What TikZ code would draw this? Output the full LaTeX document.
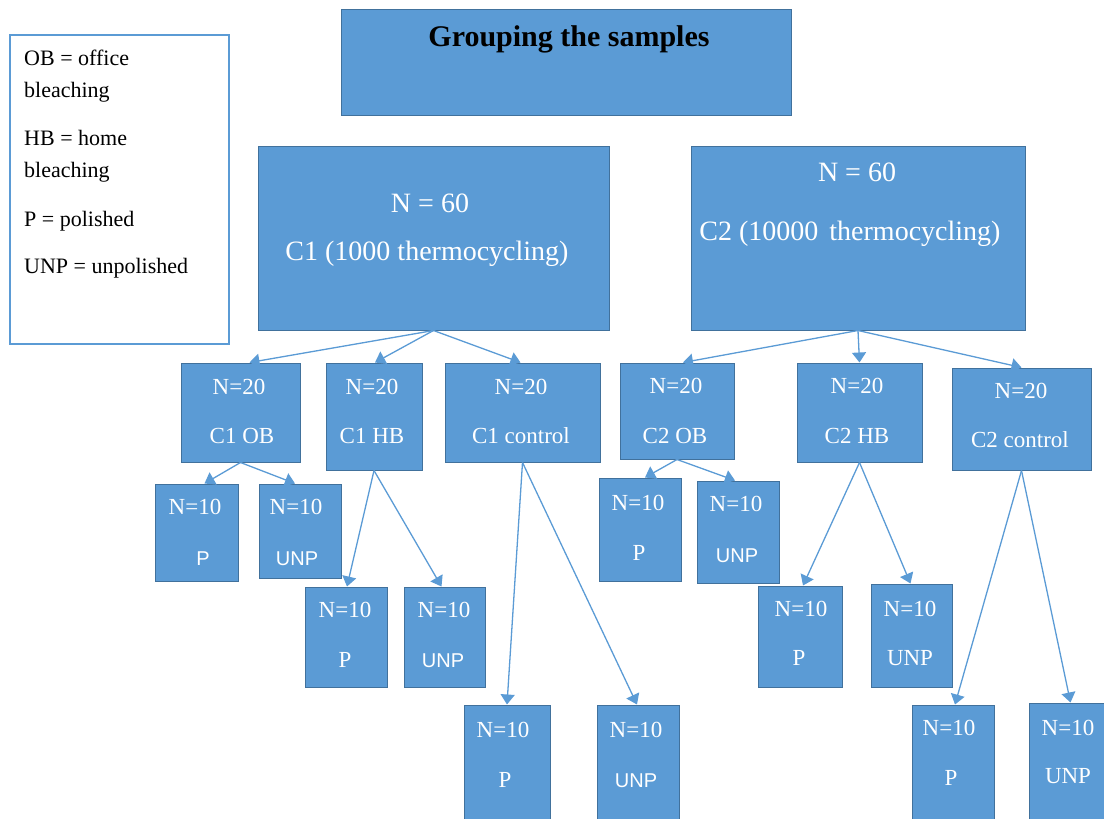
\documentclass[tikz,border=0pt]{standalone}
\usepackage{fontspec}
\setmainfont{Liberation Serif}
\newfontfamily\arialf{Liberation Sans}
\usetikzlibrary{arrows.meta,calc}
\definecolor{boxfill}{HTML}{5B9BD5}
\definecolor{boxline}{HTML}{41719C}
\definecolor{connc}{HTML}{5B9BD5}
\tikzset{
  bluebox/.style={draw=boxline, fill=boxfill, line width=1pt, inner sep=0pt, rectangle},
  legbox/.style={draw=connc, fill=white, line width=1.2pt, inner sep=0pt, rectangle},
  conn/.style={draw=connc, line width=1.3pt, -{Triangle[width=14pt,length=10pt]}},
  wt/.style={text=white, anchor=base, inner sep=0pt, font=\fontsize{23}{27}\selectfont},
  wts/.style={text=white, anchor=base, inner sep=0pt, font=\arialf\fontsize{20}{24}\selectfont},
  bigt/.style={text=white, anchor=base, inner sep=0pt, font=\fontsize{28}{32}\selectfont},
  titlet/.style={anchor=base, inner sep=0pt, font=\bfseries\fontsize{30}{34}\selectfont},
  legt/.style={anchor=base west, inner sep=0pt, font=\fontsize{22}{26}\selectfont},
}
\newcommand\mkbox[6][bluebox]{\node[#1, minimum width={(#5)-(#3)}, minimum height={(#6)-(#4)}] (#2) at ({((#3)+(#5))/2},{((#4)+(#6))/2}) {};}
\begin{document}
\begin{tikzpicture}[x=1pt,y=-1pt]
\useasboundingbox (0,0) rectangle (1104,819);
\clip (0,0) rectangle (1104,819);
% legend
\mkbox[legbox]{legend}{10}{35}{229}{344}
\node[legt] (l1) at (24,65) {OB = office};
\node[legt] (l2) at (24,97) {bleaching};
\node[legt] (l3) at (24,145) {HB = home};
\node[legt] (l4) at (24,177) {bleaching};
\node[legt] (l5) at (24,226) {P = polished};
\node[legt] (l6) at (24,273) {UNP = unpolished};
% title
\mkbox{title}{341}{9}{791}{115}
\node[titlet] (titlet) at (569,46) {Grouping the samples};
% level 1
\mkbox{c1}{258}{146}{609}{330}
\node[bigt] (c1a) at (430,212) {N = 60};
\node[bigt] (c1b) at (427,260) {C1 (1000 thermocycling)};
\mkbox{c2}{691}{146}{1025}{330}
\node[bigt] (c2a) at (857,181) {N = 60};
\node[bigt] (c2b) at (850,240) {C2 (10000\hspace{4pt} thermocycling)};
% level 2
\mkbox{c1ob}{181}{363}{300}{462}
\node[wt] (c1oba) at (239,394) {N=20};
\node[wt] (c1obb) at (242,443) {C1 OB};
\mkbox{c1hb}{326}{363}{422}{470}
\node[wt] (c1hba) at (372,394) {N=20};
\node[wt] (c1hbb) at (372,443) {C1 HB};
\mkbox{c1ct}{445}{363}{600}{462}
\node[wt] (c1cta) at (521,394) {N=20};
\node[wt] (c1ctb) at (521,443) {C1 control};
\mkbox{c2ob}{620}{363}{734}{459}
\node[wt] (c2oba) at (676,393) {N=20};
\node[wt] (c2obb) at (675,443) {C2 OB};
\mkbox{c2hb}{797}{363}{922}{462}
\node[wt] (c2hba) at (857,393) {N=20};
\node[wt] (c2hbb) at (857,443) {C2 HB};
\mkbox{c2ct}{952}{368}{1091}{470}
\node[wt] (c2cta) at (1021,398) {N=20};
\node[wt] (c2ctb) at (1020,447) {C2 control};
% level 3
\mkbox{c1obp}{155}{484}{238}{581}
\node[wt] (c1obpa) at (195,514) {N=10};
\node[wts] (c1obpb) at (203,565) {P};
\mkbox{c1obu}{259}{484}{341}{578}
\node[wt] (c1obua) at (296,514) {N=10};
\node[wts] (c1obub) at (297,565) {UNP};
\mkbox{c1hbp}{305}{587}{387}{687}
\node[wt] (c1hbpa) at (345,617) {N=10};
\node[wt] (c1hbpb) at (345,667) {P};
\mkbox{c1hbu}{404}{587}{485}{687}
\node[wt] (c1hbua) at (444,617) {N=10};
\node[wts] (c1hbub) at (443,667) {UNP};
\mkbox{c1ctp}{464}{705}{550}{830}
\node[wt] (c1ctpa) at (503,737) {N=10};
\node[wt] (c1ctpb) at (505,787) {P};
\mkbox{c1ctu}{597}{705}{679}{830}
\node[wt] (c1ctua) at (636,737) {N=10};
\node[wts] (c1ctub) at (636,787) {UNP};
\mkbox{c2obp}{599}{478}{681}{581}
\node[wt] (c2obpa) at (638,510) {N=10};
\node[wt] (c2obpb) at (639,560) {P};
\mkbox{c2obu}{697}{481}{779}{583}
\node[wt] (c2obua) at (736,511) {N=10};
\node[wts] (c2obub) at (737,562) {UNP};
\mkbox{c2hbp}{758}{586}{842}{687}
\node[wt] (c2hbpa) at (801,616) {N=10};
\node[wt] (c2hbpb) at (799,665) {P};
\mkbox{c2hbu}{871}{584}{952}{687}
\node[wt] (c2hbua) at (910,616) {N=10};
\node[wt] (c2hbub) at (910,665) {UNP};
\mkbox{c2ctp}{912}{705}{994}{830}
\node[wt] (c2ctpa) at (949,735) {N=10};
\node[wt] (c2ctpb) at (951,785) {P};
\mkbox{c2ctu}{1029}{703}{1112}{830}
\node[wt] (c2ctua) at (1068,735) {N=10};
\node[wt] (c2ctub) at (1068,783) {UNP};
% connectors
\draw[conn] (c1.south) -- ([xshift=9pt]c1ob.north);
\draw[conn] (c1.south) -- ([xshift=1pt]c1hb.north);
\draw[conn] (c1.south) -- ([xshift=-2pt]c1ct.north);
\draw[conn] (c2.south) -- ([xshift=6pt]c2ob.north);
\draw[conn] (c2.south) -- (c2hb.north);
\draw[conn] (c2.south) -- (c2ct.north);
\draw[conn] (c1ob.south) -- ([xshift=8pt]c1obp.north);
\draw[conn] (c1ob.south) -- ([xshift=-5pt]c1obu.north);
\draw[conn] (c1hb.south) -- ([xshift=1pt]c1hbp.north);
\draw[conn] (c1hb.south) -- ([xshift=-3pt]c1hbu.north);
\draw[conn] (c1ct.south) -- (c1ctp.north);
\draw[conn] (c1ct.south) -- ([xshift=-1pt]c1ctu.north);
\draw[conn] (c2ob.south) -- ([xshift=5pt]c2obp.north);
\draw[conn] (c2ob.south) -- ([xshift=-3pt]c2obu.north);
\draw[conn] (c2hb.south) -- ([xshift=3pt]c2hbp.north);
\draw[conn] (c2hb.south) -- ([xshift=-1pt]c2hbu.north);
\draw[conn] (c2ct.south) -- ([xshift=2pt]c2ctp.north);
\draw[conn] (c2ct.south) -- ([xshift=0pt]c2ctu.north);
\end{tikzpicture}
\end{document}
